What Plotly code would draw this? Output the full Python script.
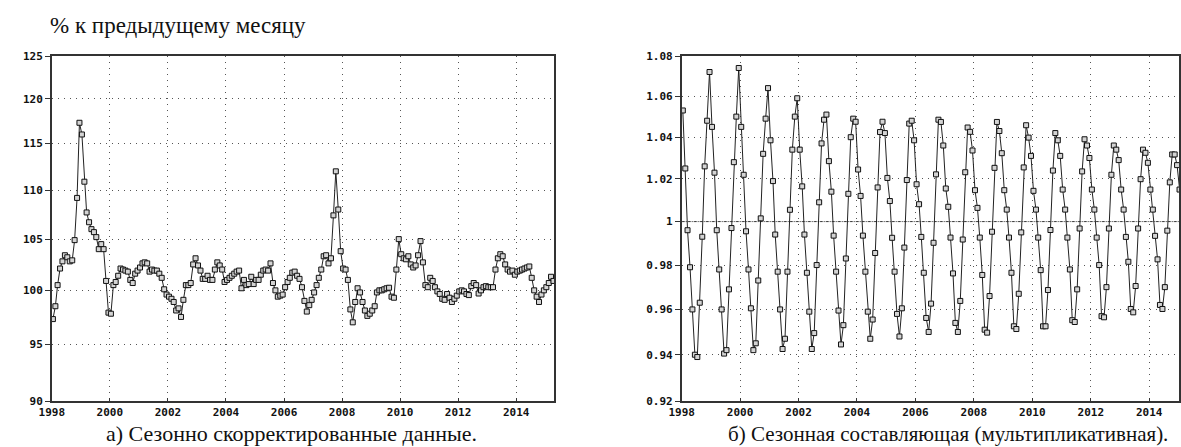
import math
import pandas as pd
import plotly.graph_objects as go

# ---------------- data ----------------
start_month = "1998-01-01"

# Seasonally adjusted data, % to previous month (Jan 1998 .. Apr 2015)
sa_values = [
    97.3, 98.5, 100.5, 102.1, 102.8, 103.4, 103.2, 102.8, 102.9, 104.9, 109.2, 117.3,   # 1998
    116.0, 110.9, 107.7, 106.7, 106.0, 105.7, 105.2, 104.0, 104.5, 104.0, 100.9, 97.9,  # 1999
    97.8, 100.5, 100.8, 101.4, 102.1, 102.0, 101.9, 101.8, 101.0, 100.7, 101.6, 101.9,  # 2000
    102.2, 102.6, 102.7, 102.6, 101.8, 102.0, 101.9, 101.9, 101.6, 101.2, 100.1, 99.6,  # 2001
    99.4, 99.2, 98.9, 98.1, 98.3, 97.5, 99.1, 100.5, 100.5, 100.7, 102.5, 103.1,        # 2002
    102.4, 101.9, 101.1, 101.1, 101.4, 101.0, 101.0, 102.0, 102.7, 102.4, 102.0, 100.8, # 2003
    101.0, 101.2, 101.4, 101.6, 101.8, 101.9, 100.2, 101.0, 100.5, 100.6, 101.3, 100.6, # 2004
    101.0, 101.0, 101.5, 101.9, 102.0, 101.9, 102.6, 100.7, 100.0, 99.4, 99.5, 99.6,    # 2005
    100.3, 100.8, 101.2, 101.7, 101.8, 101.4, 101.1, 100.3, 99.0, 98.0, 98.6, 99.1,     # 2006
    99.8, 100.5, 101.2, 102.0, 103.3, 103.4, 102.6, 103.1, 107.4, 112.0, 108.0, 103.8,  # 2007
    102.1, 102.0, 101.0, 98.2, 97.0, 98.9, 100.2, 99.8, 98.9, 98.1, 97.6, 97.8,         # 2008
    98.1, 98.5, 99.8, 100.0, 100.0, 100.1, 100.2, 100.25, 99.4, 99.3, 102.0, 105.0,     # 2009
    103.5, 103.1, 103.0, 103.3, 102.5, 102.2, 102.4, 103.4, 104.8, 102.7, 100.5, 100.3, # 2010
    101.2, 100.9, 100.3, 99.9, 99.65, 99.2, 99.1, 99.65, 99.3, 98.9, 99.2, 99.5,        # 2011
    99.9, 100.0, 99.9, 99.65, 99.55, 100.4, 100.7, 100.5, 99.7, 100.0, 100.3, 100.4,    # 2012
    100.3, 100.3, 100.3, 102.0, 103.1, 103.5, 103.3, 102.5, 102.0, 101.8, 101.9, 101.5, # 2013
    101.8, 101.9, 102.0, 102.1, 102.2, 102.3, 101.2, 100.0, 99.4, 98.9, 99.6, 100.0,    # 2014
    100.3, 100.7, 101.3, 100.9,                                                         # 2015
]

# Seasonal component (multiplicative)
seasonal_values = [
    1.053, 1.025, 0.996, 0.979, 0.960, 0.940, 0.939, 0.963, 0.993, 1.026, 1.048, 1.072,
    1.045, 1.023, 0.996, 0.978, 0.960, 0.9405, 0.942, 0.969, 0.997, 1.028, 1.050, 1.074,
    1.045, 1.022, 0.9955, 0.978, 0.9605, 0.942, 0.945, 0.973, 1.0015, 1.032, 1.049, 1.064,
    1.0385, 1.019, 0.994, 0.977, 0.960, 0.9425, 0.947, 0.977, 1.0055, 1.034, 1.050, 1.059,
    1.034, 1.0165, 0.994, 0.9765, 0.959, 0.9425, 0.9495, 0.980, 1.009, 1.037, 1.0485, 1.051,
    1.0285, 1.014, 0.9935, 0.977, 0.9595, 0.9445, 0.953, 0.983, 1.013, 1.040, 1.049, 1.0475,
    1.0245, 1.012, 0.9935, 0.977, 0.959, 0.947, 0.9555, 0.9855, 1.016, 1.0425, 1.0475, 1.042,
    1.0205, 1.0096, 0.9925, 0.977, 0.958, 0.948, 0.9605, 0.988, 1.0195, 1.0466, 1.048, 1.0385,
    1.0175, 1.0081, 0.9929, 0.9765, 0.9562, 0.950, 0.9626, 0.9902, 1.0222, 1.0485, 1.0474, 1.036,
    1.0155, 1.0069, 0.9926, 0.9762, 0.954, 0.950, 0.9638, 0.9917, 1.0232, 1.0447, 1.0426, 1.0336,
    1.0147, 1.0064, 0.9926, 0.9755, 0.951, 0.9497, 0.966, 0.9953, 1.0253, 1.0474, 1.043, 1.0323,
    1.0147, 1.0056, 0.9926, 0.9765, 0.9525, 0.9513, 0.967, 0.995, 1.0255, 1.0458, 1.0398, 1.031,
    1.0144, 1.0056, 0.9926, 0.9777, 0.9525, 0.9525, 0.9687, 0.9961, 1.024, 1.042, 1.0385, 1.031,
    1.015, 1.0056, 0.9926, 0.978, 0.9552, 0.9544, 0.969, 0.9968, 1.0236, 1.039, 1.036, 1.030,
    1.015, 1.0056, 0.9926, 0.980, 0.957, 0.9565, 0.970, 0.9968, 1.022, 1.036, 1.034, 1.029,
    1.015, 1.0056, 0.9929, 0.9815, 0.9602, 0.9587, 0.9705, 0.9968, 1.0199, 1.034, 1.0325, 1.0277,
    1.015, 1.0056, 0.9934, 0.9826, 0.962, 0.9602, 0.970, 0.9958, 1.0184, 1.0317, 1.0317, 1.0266,
    1.015, 1.006, 0.994, 0.983,
]

year_ticks = ["1998", "2000", "2002", "2004", "2006", "2008", "2010", "2012", "2014"]
left_y_ticks = [90, 95, 100, 105, 110, 115, 120, 125]
right_y_ticks = [0.92, 0.94, 0.96, 0.98, 1.0, 1.02, 1.04, 1.06, 1.08]
right_y_labels = ["0.92", "0.94", "0.96", "0.98", "1", "1.02", "1.04", "1.06", "1.08"]

title_text = "% к предыдущему месяцу"
caption_left = "а) Сезонно скорректированные данные."
caption_right = "б) Сезонная составляющая (мультипликативная)."

# ---------------- figure ----------------
W, H = 1181, 447
MT, MB = 56, 46
dates_sa = pd.date_range(start_month, periods=len(sa_values), freq="MS") + pd.Timedelta(days=14)
dates_se = pd.date_range(start_month, periods=len(seasonal_values), freq="MS") + pd.Timedelta(days=14)
tick_dates = [f"{y}-01-01" for y in year_ticks]

line_style = dict(color="#222222", width=1)
marker_style = dict(symbol="square", size=5, color="#d4d4d4",
                    line=dict(color="#111111", width=1))

fig = go.Figure()
fig.add_trace(go.Scatter(x=dates_sa, y=sa_values, mode="lines+markers",
                         line=line_style, marker=marker_style,
                         xaxis="x", yaxis="y", showlegend=False, hoverinfo="x+y"))
fig.add_trace(go.Scatter(x=dates_se, y=seasonal_values, mode="lines+markers",
                         line=line_style, marker=marker_style,
                         xaxis="x2", yaxis="y2", showlegend=False, hoverinfo="x+y"))

tick_font = dict(family="DejaVu Sans Mono", size=11, color="#111", weight="bold")
grid = dict(showgrid=True, gridcolor="#555", gridwidth=1, griddash="1px,5px")
axline = dict(showline=True, linecolor="#333", linewidth=1.5, mirror=True, zeroline=False)

def px_x(p):
    return p / W

fig.update_layout(
    width=W, height=H,
    margin=dict(l=0, r=0, t=MT, b=MB),
    paper_bgcolor="white", plot_bgcolor="white",
    xaxis=dict(type="date", domain=[px_x(39.3), px_x(548)],
               range=["1998-01-01", "2015-04-22"],
               tickvals=tick_dates, ticktext=year_ticks,
               ticks="inside", ticklen=3, tickcolor="#333",
               tickfont=tick_font, anchor="y", **grid, **axline),
    yaxis=dict(type="log", range=[math.log10(90), math.log10(125)],
               tickvals=left_y_ticks, ticktext=[str(v) for v in left_y_ticks],
               ticks="outside", ticklen=5, tickcolor="#333",
               tickfont=tick_font, anchor="x", **grid, **axline),
    xaxis2=dict(type="date", domain=[px_x(677.3), 1.0],
                range=["1998-01-01", "2015-01-08"],
                tickvals=tick_dates, ticktext=year_ticks,
                ticks="inside", ticklen=3, tickcolor="#333",
                tickfont=tick_font, anchor="y2", **grid, **axline),
    yaxis2=dict(type="log", range=[math.log10(0.92), math.log10(1.08)],
                tickvals=right_y_ticks, ticktext=right_y_labels,
                ticks="outside", ticklen=5, tickcolor="#333",
                tickfont=tick_font, anchor="x2", **grid, **axline),
)

# reference line at 1 on the seasonal chart
fig.add_shape(type="line", xref="x2 domain", yref="y2", x0=0, x1=1, y0=1.0, y1=1.0,
              line=dict(color="#333", width=1, dash="3px,1px,1px,1px"), layer="below")

def py(p):
    return (H - MB - p) / (H - MT - MB)

fig.add_annotation(text=title_text, xref="paper", yref="paper", x=px_x(35), y=py(25),
                   xanchor="left", yanchor="middle", showarrow=False,
                   font=dict(family="Liberation Serif", size=23, color="#111"))
fig.add_annotation(text=caption_left, xref="paper", yref="paper", x=px_x(282), y=py(434),
                   xanchor="center", yanchor="middle", showarrow=False,
                   font=dict(family="Liberation Serif", size=22, color="#111"))
fig.add_annotation(text=caption_right, xref="paper", yref="paper", x=px_x(947), y=py(434),
                   xanchor="center", yanchor="middle", showarrow=False,
                   font=dict(family="Liberation Serif", size=21, color="#111"))

fig.write_html("out.html")
